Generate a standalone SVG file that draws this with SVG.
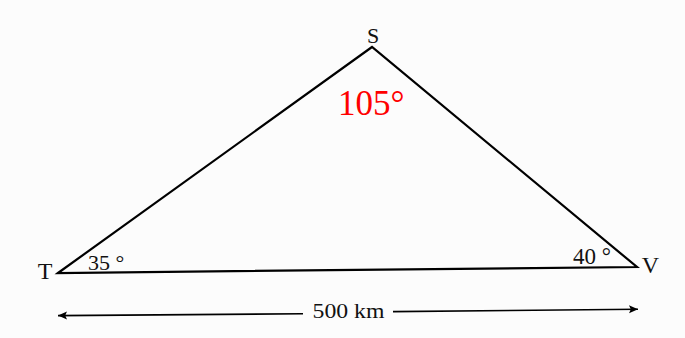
<svg xmlns="http://www.w3.org/2000/svg" width="685" height="338" viewBox="0 0 685 338">
<style>
text{font-family:"Liberation Serif","Times New Roman",serif;fill:#111}
.edge{stroke:#000;stroke-width:2.2;fill:none;stroke-linejoin:miter}
.dim{stroke:#000;stroke-width:1.6;fill:none}
</style>
<defs>
<marker id="ah" viewBox="0 0 10 10" refX="10" refY="5" markerWidth="11" markerHeight="9" markerUnits="userSpaceOnUse" orient="auto-start-reverse">
<path d="M0,0.5 L10,5 L0,9.5 L2,5 Z" fill="#000"/>
</marker>
</defs>
<rect width="685" height="338" fill="#fcfcfc"/>
<g id="connectors">
<polygon class="edge" points="58,273 372,47 637,267"/>
<line class="dim" x1="58" y1="315.6" x2="303" y2="313.8" marker-start="url(#ah)"/>
<line class="dim" x1="393" y1="311.6" x2="638" y2="309.2" marker-end="url(#ah)"/>
</g>
<g id="S"><text x="373" y="43" font-size="22" text-anchor="middle">S</text></g>
<g id="T"><text x="45" y="279" font-size="24" text-anchor="middle">T</text></g>
<g id="V"><text x="650.5" y="273" font-size="24" text-anchor="middle">V</text></g>
<g id="angleS"><text x="338" y="115" font-size="35" style="fill:#ff0000">105°</text></g>
<g id="angleT"><text x="88" y="270" font-size="22">35 °</text></g>
<g id="angleV"><text x="573" y="264" font-size="23">40 °</text></g>
<g id="dist"><text x="312.5" y="318" font-size="20" textLength="72" lengthAdjust="spacingAndGlyphs">500 km</text></g>
</svg>
